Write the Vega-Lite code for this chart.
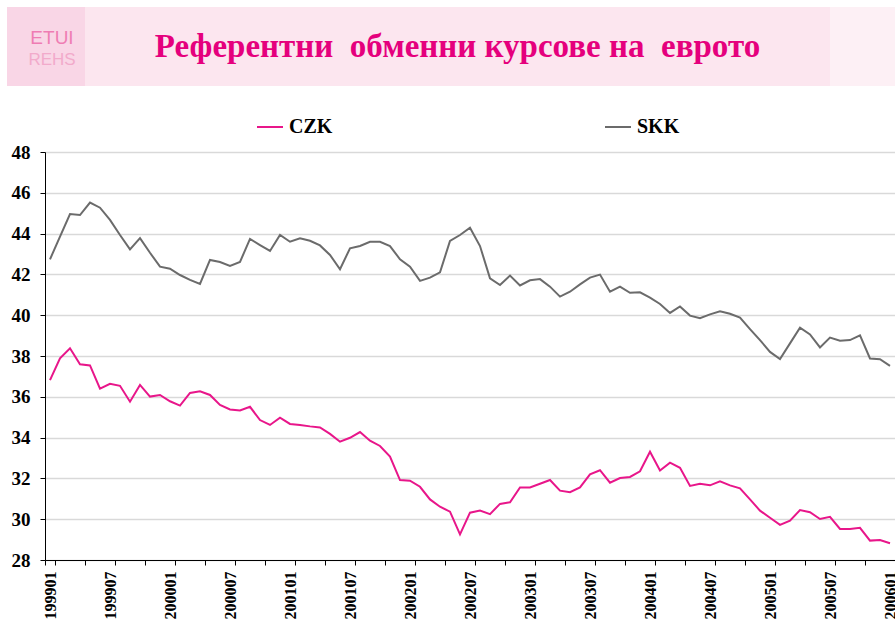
{
  "$schema": "https://vega.github.io/schema/vega-lite/v6.json",
  "padding": {"left": 7, "top": 7, "right": 0, "bottom": 0},
  "background": "white",
  "config": {"view": {"stroke": null}},
  "spacing": 145,
  "bounds": "flush",
  "vconcat": [
    {
      "spacing": 0,
      "hconcat": [
        {
          "width": 78, "height": 79,
          "view": {"fill": "#f9d6e6", "stroke": null},
          "data": {"values": [{"a": "ETUI", "b": "REHS"}]},
          "layer": [
            {
              "mark": {"type": "text", "font": "Liberation Sans", "fontSize": 19, "color": "#e8348a", "opacity": 0.55, "dx": 6, "dy": -9},
              "encoding": {"text": {"field": "a", "type": "nominal"}}
            },
            {
              "mark": {"type": "text", "font": "Liberation Sans", "fontSize": 17, "color": "#ec7fb1", "opacity": 0.5, "dx": 6, "dy": 13},
              "encoding": {"text": {"field": "b", "type": "nominal"}}
            }
          ]
        },
        {
          "width": 745, "height": 79,
          "view": {"fill": "#fce6ef", "stroke": null},
          "data": {"values": [{"t": "Референтни\u00a0 обменни курсове на\u00a0 еврото"}]},
          "mark": {"type": "text", "font": "Liberation Serif", "fontWeight": "bold", "fontSize": 33, "color": "#e5007d"},
          "encoding": {"text": {"field": "t", "type": "nominal"}}
        },
        {
          "width": 65, "height": 79,
          "view": {"fill": "#fdf0f5", "stroke": null},
          "data": {"values": [{"t": ""}]},
          "mark": {"type": "text"},
          "encoding": {"text": {"field": "t", "type": "nominal"}}
        }
      ]
    },
    {
      "spacing": 0,
      "bounds": "flush",
      "hconcat": [
        {
          "width": 38, "height": 408,
          "data": {"values": [{"t": ""}]},
          "mark": {"type": "text"},
          "encoding": {"text": {"field": "t", "type": "nominal"}}
        },
        {
          "width": 850,
          "height": 408,
          "data": {"values": [
            {"m": "199901", "CZK": 36.82, "SKK": 42.74},
            {"m": "199902", "CZK": 37.89, "SKK": 43.85},
            {"m": "199903", "CZK": 38.38, "SKK": 44.96},
            {"m": "199904", "CZK": 37.59, "SKK": 44.91},
            {"m": "199905", "CZK": 37.54, "SKK": 45.52},
            {"m": "199906", "CZK": 36.40, "SKK": 45.27},
            {"m": "199907", "CZK": 36.64, "SKK": 44.67},
            {"m": "199908", "CZK": 36.54, "SKK": 43.93},
            {"m": "199909", "CZK": 35.76, "SKK": 43.23},
            {"m": "199910", "CZK": 36.58, "SKK": 43.78},
            {"m": "199911", "CZK": 36.01, "SKK": 43.06},
            {"m": "199912", "CZK": 36.09, "SKK": 42.38},
            {"m": "200001", "CZK": 35.78, "SKK": 42.28},
            {"m": "200002", "CZK": 35.57, "SKK": 41.97},
            {"m": "200003", "CZK": 36.19, "SKK": 41.73},
            {"m": "200004", "CZK": 36.27, "SKK": 41.53},
            {"m": "200005", "CZK": 36.09, "SKK": 42.71},
            {"m": "200006", "CZK": 35.60, "SKK": 42.61},
            {"m": "200007", "CZK": 35.38, "SKK": 42.41},
            {"m": "200008", "CZK": 35.33, "SKK": 42.61},
            {"m": "200009", "CZK": 35.51, "SKK": 43.74},
            {"m": "200010", "CZK": 34.86, "SKK": 43.44},
            {"m": "200011", "CZK": 34.62, "SKK": 43.15},
            {"m": "200012", "CZK": 34.98, "SKK": 43.93},
            {"m": "200101", "CZK": 34.67, "SKK": 43.60},
            {"m": "200102", "CZK": 34.62, "SKK": 43.77},
            {"m": "200103", "CZK": 34.55, "SKK": 43.65},
            {"m": "200104", "CZK": 34.50, "SKK": 43.42},
            {"m": "200105", "CZK": 34.18, "SKK": 42.95},
            {"m": "200106", "CZK": 33.80, "SKK": 42.25},
            {"m": "200107", "CZK": 33.99, "SKK": 43.28},
            {"m": "200108", "CZK": 34.27, "SKK": 43.39},
            {"m": "200109", "CZK": 33.85, "SKK": 43.60},
            {"m": "200110", "CZK": 33.59, "SKK": 43.60},
            {"m": "200111", "CZK": 33.07, "SKK": 43.39},
            {"m": "200112", "CZK": 31.92, "SKK": 42.74},
            {"m": "200201", "CZK": 31.89, "SKK": 42.38},
            {"m": "200202", "CZK": 31.59, "SKK": 41.68},
            {"m": "200203", "CZK": 30.97, "SKK": 41.84},
            {"m": "200204", "CZK": 30.61, "SKK": 42.10},
            {"m": "200205", "CZK": 30.37, "SKK": 43.64},
            {"m": "200206", "CZK": 29.26, "SKK": 43.93},
            {"m": "200207", "CZK": 30.32, "SKK": 44.29},
            {"m": "200208", "CZK": 30.42, "SKK": 43.39},
            {"m": "200209", "CZK": 30.25, "SKK": 41.81},
            {"m": "200210", "CZK": 30.75, "SKK": 41.48},
            {"m": "200211", "CZK": 30.83, "SKK": 41.94},
            {"m": "200212", "CZK": 31.56, "SKK": 41.46},
            {"m": "200301", "CZK": 31.56, "SKK": 41.71},
            {"m": "200302", "CZK": 31.74, "SKK": 41.77},
            {"m": "200303", "CZK": 31.92, "SKK": 41.40},
            {"m": "200304", "CZK": 31.40, "SKK": 40.91},
            {"m": "200305", "CZK": 31.32, "SKK": 41.15},
            {"m": "200306", "CZK": 31.56, "SKK": 41.51},
            {"m": "200307", "CZK": 32.20, "SKK": 41.84},
            {"m": "200308", "CZK": 32.40, "SKK": 41.99},
            {"m": "200309", "CZK": 31.79, "SKK": 41.15},
            {"m": "200310", "CZK": 32.02, "SKK": 41.40},
            {"m": "200311", "CZK": 32.07, "SKK": 41.10},
            {"m": "200312", "CZK": 32.35, "SKK": 41.12},
            {"m": "200401", "CZK": 33.31, "SKK": 40.86},
            {"m": "200402", "CZK": 32.39, "SKK": 40.55},
            {"m": "200403", "CZK": 32.77, "SKK": 40.11},
            {"m": "200404", "CZK": 32.52, "SKK": 40.43},
            {"m": "200405", "CZK": 31.63, "SKK": 39.98},
            {"m": "200406", "CZK": 31.74, "SKK": 39.85},
            {"m": "200407", "CZK": 31.66, "SKK": 40.04},
            {"m": "200408", "CZK": 31.86, "SKK": 40.19},
            {"m": "200409", "CZK": 31.66, "SKK": 40.07},
            {"m": "200410", "CZK": 31.51, "SKK": 39.88},
            {"m": "200411", "CZK": 30.97, "SKK": 39.32},
            {"m": "200412", "CZK": 30.42, "SKK": 38.78},
            {"m": "200501", "CZK": 30.07, "SKK": 38.20},
            {"m": "200502", "CZK": 29.72, "SKK": 37.85},
            {"m": "200503", "CZK": 29.93, "SKK": 38.62},
            {"m": "200504", "CZK": 30.45, "SKK": 39.39},
            {"m": "200505", "CZK": 30.34, "SKK": 39.06},
            {"m": "200506", "CZK": 30.01, "SKK": 38.42},
            {"m": "200507", "CZK": 30.12, "SKK": 38.90},
            {"m": "200508", "CZK": 29.52, "SKK": 38.75},
            {"m": "200509", "CZK": 29.52, "SKK": 38.78},
            {"m": "200510", "CZK": 29.58, "SKK": 39.01},
            {"m": "200511", "CZK": 28.95, "SKK": 37.88},
            {"m": "200512", "CZK": 28.98, "SKK": 37.84},
            {"m": "200601", "CZK": 28.82, "SKK": 37.52}
          ]},
          "transform": [{"fold": ["CZK", "SKK"], "as": ["series", "value"]}],
          "mark": {"type": "line", "strokeWidth": 2},
          "encoding": {
            "x": {
              "field": "m", "type": "ordinal",
              "scale": {"type": "band", "paddingInner": 0, "paddingOuter": 0},
              "axis": {
                "title": null,
                "values": ["199901","199904","199907","199910","200001","200004","200007","200010","200101","200104","200107","200110","200201","200204","200207","200210","200301","200304","200307","200310","200401","200404","200407","200410","200501","200504","200507","200510","200601"],
                "labelExpr": "(substring(datum.value, 4) == '04' || substring(datum.value, 4) == '10') ? '' : datum.label",
                "tickBand": "extent",
                "labelAngle": 270,
                "labelAlign": "right",
                "labelBaseline": "middle",
                "labelFont": "Liberation Serif",
                "labelFontWeight": "bold",
                "labelFontSize": 16,
                "labelColor": "#000000",
                "labelPadding": 6,
                "labelOverlap": false,
                "tickSize": 5,
                "tickColor": "#000000",
                "domainColor": "#000000",
                "grid": false
              }
            },
            "y": {
              "field": "value", "type": "quantitative",
              "scale": {"domain": [28, 48], "nice": false, "zero": false},
              "axis": {
                "title": null,
                "values": [28, 30, 32, 34, 36, 38, 40, 42, 44, 46, 48],
                "grid": true,
                "gridColor": "#d9d9d9",
                "gridWidth": 1.5,
                "domainColor": "#000000",
                "tickColor": "#000000",
                "tickSize": 5,
                "labelFont": "Liberation Serif",
                "labelFontWeight": "bold",
                "labelFontSize": 19,
                "labelColor": "#000000",
                "labelPadding": 10
              }
            },
            "color": {
              "field": "series", "type": "nominal",
              "scale": {"domain": ["CZK", "SKK"], "range": ["#e8168a", "#6b6b6b"]},
              "legend": {
                "title": null,
                "orient": "none",
                "direction": "horizontal",
                "legendX": 249,
                "legendY": 106,
                "padding": 0,
                "symbolType": "stroke",
                "symbolSize": 676,
                "symbolStrokeWidth": 2,
                "labelFont": "Liberation Serif",
                "labelFontWeight": "bold",
                "labelFontSize": 20,
                "labelColor": "#000000",
                "labelOffset": 5,
                "columnPadding": 268
              }
            }
          }
        }
      ]
    }
  ]
}
